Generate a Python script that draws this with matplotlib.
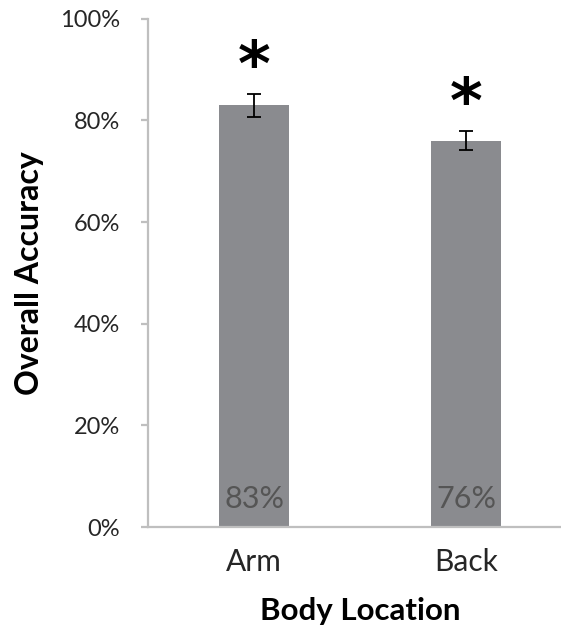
import numpy as np
import matplotlib
matplotlib.use("Agg")
import matplotlib.pyplot as plt

# accuracy per body location, with standard error
locations = ["Arm", "Back"]
accuracy = [0.83, 0.76]
std_err = [0.023, 0.019]
significant = [True, True]

plt.rcParams['font.family'] = ['Lato', 'DejaVu Sans']

fig = plt.figure(figsize=(5.61, 6.26), dpi=100)
ax = fig.add_axes([0.264, 0.158, 0.756, 0.812])

x = np.arange(len(locations))
bar_color = '#8a8b8f'
axis_color = '#bfbfbf'

ax.bar(x, accuracy, width=0.33, color=bar_color, zorder=2)
ax.errorbar(x, accuracy, yerr=std_err, fmt='none', ecolor='black',
            elinewidth=1.3, capsize=5, capthick=1.3, zorder=3)

# value labels sitting at the base of each bar
for xi, v in zip(x, accuracy):
    ax.annotate(f"{v:.0%}", (xi, 0), xytext=(0, 10), textcoords='offset points',
                ha='center', va='bottom', fontsize=22, color='#555555', zorder=4)

# significance markers above the error bars
for xi, v, e, s in zip(x, accuracy, std_err, significant):
    if s:
        ax.annotate("*", (xi, v + e), xytext=(0, -3), textcoords='offset points',
                    ha='center', va='bottom', fontsize=45, fontweight='bold',
                    family='DejaVu Sans', color='black', zorder=4)

ax.set_xlim(-0.5, 1.5)
ax.set_ylim(0, 1.0)
ax.set_yticks(np.arange(0, 1.01, 0.2))
ax.set_yticklabels([f"{t:.0%}" for t in np.arange(0, 1.01, 0.2)])
ax.set_xticks(x)
ax.set_xticklabels(locations)

for side in ['top', 'right']:
    ax.spines[side].set_visible(False)
for side in ['left', 'bottom']:
    ax.spines[side].set_color(axis_color)
    ax.spines[side].set_linewidth(1.6)

ax.tick_params(axis='y', length=5, width=1.6, color=axis_color, pad=15,
               labelsize=17, labelcolor='#262626')
ax.tick_params(axis='x', length=0, pad=15, labelsize=21.5, labelcolor='#262626')

ax.set_ylabel("Overall Accuracy", fontsize=23, fontweight='bold', labelpad=12)
ax.set_xlabel("Body Location", fontsize=22.5, fontweight='bold', labelpad=15)

fig.savefig("out.png", dpi=100)
